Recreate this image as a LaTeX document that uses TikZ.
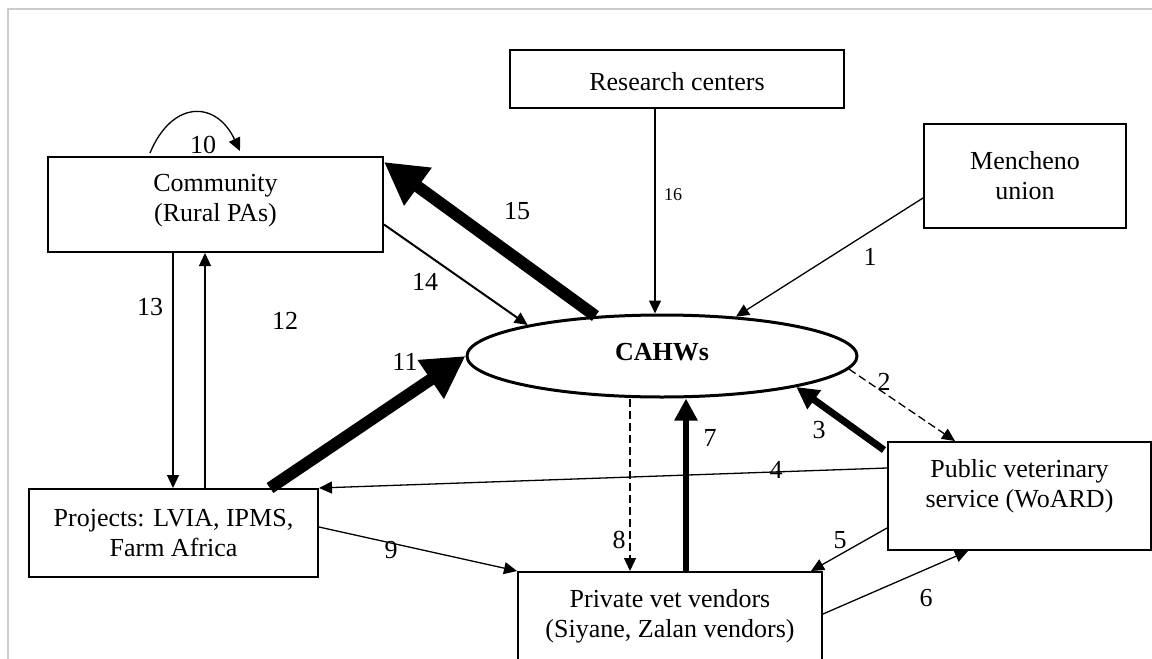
\documentclass[tikz,border=0pt]{standalone}
\usepackage{fontspec}
\setmainfont{Liberation Serif}
\usetikzlibrary{arrows.meta,shapes.geometric}

\begin{document}
\begin{tikzpicture}[x=1pt,y=-1pt,
  box/.style={draw,line width=2pt,inner sep=0pt},
  btext/.style={align=center,inner sep=0pt,font=\fontsize{26}{30}\selectfont},
  num/.style={inner sep=0pt,font=\fontsize{26}{30}\selectfont},
  smallnum/.style={inner sep=0pt,font=\fontsize{18}{20}\selectfont},
  arr/.style={line width=1.3pt,-{Triangle[length=13pt,width=12pt]}},
  arrdash/.style={arr,dash pattern=on 8pt off 4pt},
  midarr/.style={line width=6.5pt,-{Triangle[length=22pt,width=22pt]}},
  heavyarr/.style={line width=12pt,-{Triangle[length=42pt,width=44pt]}},
  frame/.style={draw=black!20,line width=2pt}
]
\useasboundingbox (0,0) rectangle (1152,659);
\clip (0,0) rectangle (1152,659);

% page frame
\draw[frame] (8,659) -- (8,9) -- (1152,9);

% boxes
\node[box,minimum width=334pt,minimum height=58pt] (research) at (677,79) {};
\node[btext] (research-t) at (677,82) {Research centers};

\node[box,minimum width=202pt,minimum height=104pt] (mench) at (1025,176) {};
\node[btext] (mench-t) at (1025,176) {Mencheno\\union};

\node[box,minimum width=335pt,minimum height=95pt] (comm) at (215.5,204.5) {};
\node[btext] (comm-t) at (215.5,201) {Community\\(Rural PAs)};

\node[box,minimum width=289pt,minimum height=88pt] (proj) at (173.5,533) {};
\node[btext] (proj-t) at (173.5,533) {Projects: LVIA, IPMS,\\Farm Africa};

\node[box,minimum width=263pt,minimum height=108pt] (pub) at (1019.5,496) {};
\node[btext] (pub-t) at (1019.5,486) {Public veterinary\\service (WoARD)};

\node[box,minimum width=304pt,minimum height=130pt] (priv) at (670,637) {};
\node[btext] (priv-t) at (670,616) {Private vet vendors\\(Siyane, Zalan vendors)};

\node[draw,ellipse,line width=3pt,inner sep=0pt,minimum width=390pt,minimum height=82pt,
      text depth=8pt,font=\fontsize{26}{30}\selectfont\bfseries] (cahw) at (662,356) {CAHWs};

% connectors
\coordinate (loopA) at (150,153);
\coordinate (loopB) at (240,151);
\draw[arr] (loopA) .. controls (172,100) and (216,100) .. (loopB);
\node[num] (l10) at (203,145) {10};

\draw[heavyarr] (cahw.149) -- ([yshift=-6pt]comm.north east);
\node[num] (l15) at (517,211) {15};

\draw[arr,line width=2pt] ([yshift=-20pt]comm.east) -- (cahw.167);
\node[num] (l14) at (425,282) {14};

\draw[arr] (655,0 |- research.south) -- (655,0 |- cahw.north);
\node[smallnum] (l16) at (673,195) {16};

\draw[arr] ([yshift=-22pt]mench.west) -- (cahw.28);
\node[num] (l1) at (870,257) {1};

\draw[arr] (173,0 |- comm.south) -- (173,0 |- proj.north);
\node[num] (l13) at (150,307) {13};

\draw[arr] (205,0 |- proj.north) -- (205,0 |- comm.south);
\node[num] (l12) at (285,321) {12};

\draw[heavyarr] (270,0 |- proj.north) -- (cahw.west);
\node[num] (l11) at (405,362) {11};

\draw[arrdash] (cahw.-4) -- ([xshift=68pt]pub.north west);
\node[num] (l2) at (884,382) {2};

\draw[midarr,line width=7pt] ([yshift=-9pt,xshift=-3pt]pub.north west) -- (cahw.-13);
\node[num] (l3) at (819,430) {3};

\draw[arr] ([yshift=28pt]pub.west) -- (proj.north east);
\node[num] (l4) at (776,470) {4};

\draw[arr] ([yshift=-32pt]pub.west) -- ([xshift=-12pt]priv.north east);
\node[num] (l5) at (840,540) {5};

\draw[arr] ([yshift=-43pt]priv.north east) -- ([xshift=81pt]pub.south west);
\node[num] (l6) at (926,598) {6};

\draw[midarr] (686,0 |- priv.north) -- (686,0 |- cahw.south);
\node[num] (l7) at (710,438) {7};

\draw[arrdash] (630,0 |- cahw.south) -- (630,0 |- priv.north);
\node[num] (l8) at (619,540) {8};

\draw[arr] ([yshift=6pt]proj.east) -- (priv.north west);
\node[num] (l9) at (391,550) {9};
\end{tikzpicture}
\end{document}
